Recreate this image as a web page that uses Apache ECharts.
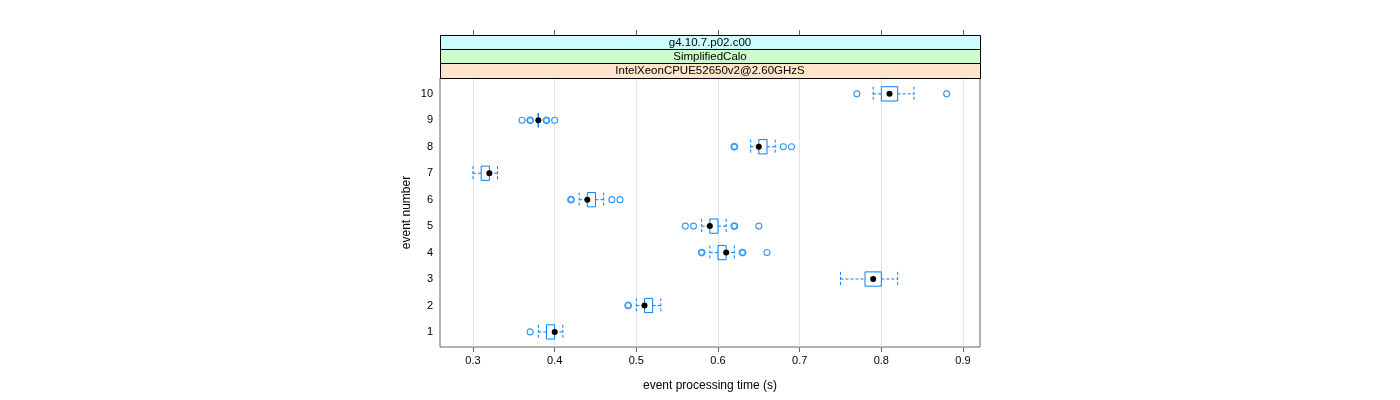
<!DOCTYPE html>
<html>
<head>
<meta charset="utf-8">
<script src="https://cdn.jsdelivr.net/npm/echarts@6/dist/echarts.min.js"></script>
<style>
html,body{margin:0;padding:0;background:#fff;}
#chart{width:1400px;height:400px;}
</style>
</head>
<body>
<div id="chart"></div>
<script>
// ---- data ----
const events = [1, 2, 3, 4, 5, 6, 7, 8, 9, 10];
const whiskerLow  = [0.38, 0.50, 0.75, 0.59, 0.58, 0.43, 0.30, 0.64, 0.38, 0.79];
const q1          = [0.39, 0.51, 0.78, 0.60, 0.59, 0.44, 0.31, 0.65, 0.38, 0.80];
const medians     = [0.40, 0.51, 0.79, 0.61, 0.59, 0.44, 0.32, 0.65, 0.38, 0.81];
const q3          = [0.40, 0.52, 0.80, 0.61, 0.60, 0.45, 0.32, 0.66, 0.38, 0.82];
const whiskerHigh = [0.41, 0.53, 0.82, 0.62, 0.61, 0.46, 0.33, 0.67, 0.38, 0.84];
// outliers: event, value, multiplicity
const outlierEvent = [1, 2, 4, 4, 4, 5, 5, 5, 5, 6, 6, 6, 8, 8, 8, 9, 9, 9, 9, 10, 10];
const outlierValue = [0.37, 0.49, 0.58, 0.63, 0.66, 0.56, 0.57, 0.62, 0.65, 0.42, 0.47, 0.48, 0.62, 0.68, 0.69, 0.36, 0.37, 0.39, 0.40, 0.77, 0.88];
const outlierCount = [1, 2, 2, 2, 1, 1, 1, 2, 1, 2, 1, 1, 2, 1, 1, 1, 2, 2, 1, 1, 1];
const xTicks = [0.3, 0.4, 0.5, 0.6, 0.7, 0.8, 0.9];
const yTicks = [1, 2, 3, 4, 5, 6, 7, 8, 9, 10];
const stripLabels = ['g4.10.7.p02.c00', 'SimplifiedCalo', 'IntelXeonCPUE52650v2@2.60GHzS'];

// ---- build ----
const BLUE = '#0080ff';
const FONT = '"Liberation Sans", Arial, sans-serif';
const boxData = events.map((e, i) => [e, whiskerLow[i], q1[i], medians[i], q3[i], whiskerHigh[i]]);
const outData = outlierEvent.map((e, i) => ({
  value: [outlierValue[i], e],
  itemStyle: { borderWidth: outlierCount[i] > 1 ? 1.8 : 1.1 }
}));

function renderBox(params, api) {
  const y = api.value(0);
  const pLo = api.coord([api.value(1), y]);
  const pQ1 = api.coord([api.value(2), y]);
  const pMed = api.coord([api.value(3), y]);
  const pQ3 = api.coord([api.value(4), y]);
  const pHi = api.coord([api.value(5), y]);
  const h = api.size([0, 1])[1] * 0.27;
  const dash = { stroke: BLUE, lineWidth: 1, lineDash: [3, 2], fill: null };
  const solid = { stroke: BLUE, lineWidth: 1, fill: null };
  const cy = pMed[1];
  return {
    type: 'group',
    children: [
      { type: 'line', shape: { x1: pLo[0], y1: cy, x2: pQ1[0], y2: cy }, style: dash },
      { type: 'line', shape: { x1: pQ3[0], y1: cy, x2: pHi[0], y2: cy }, style: dash },
      { type: 'line', shape: { x1: pLo[0], y1: cy - h, x2: pLo[0], y2: cy + h }, style: dash },
      { type: 'line', shape: { x1: pHi[0], y1: cy - h, x2: pHi[0], y2: cy + h }, style: dash },
      { type: 'rect', shape: { x: pQ1[0], y: cy - h, width: Math.max(pQ3[0] - pQ1[0], 0), height: 2 * h }, style: solid },
      { type: 'circle', shape: { cx: pMed[0], cy: cy, r: 3 }, style: { fill: '#000' } }
    ]
  };
}

const plotLeft = 440, plotW = 540, plotTop = 78, plotH = 269;
const stripTops = [35, 49, 63];
const stripH = [14, 14, 15];
const stripColors = ['#ccffff', '#ccffcc', '#ffe5cc'];

const graphics = [];
stripLabels.forEach((t, i) => {
  graphics.push({
    type: 'rect', left: plotLeft, top: stripTops[i], z: 10,
    shape: { width: plotW, height: stripH[i] },
    style: { fill: stripColors[i], stroke: '#000', lineWidth: 1 }
  });
  graphics.push({
    type: 'text', x: plotLeft + plotW / 2, y: stripTops[i] + stripH[i] / 2 + 0.5, z: 11,
    style: { text: t, fill: '#000', font: '11.5px ' + FONT, align: 'center', verticalAlign: 'middle' }
  });
});

const chart = echarts.init(document.getElementById('chart'), null, { renderer: 'canvas' });
chart.setOption({
  animation: false,
  backgroundColor: '#fff',
  grid: { left: plotLeft, top: plotTop, width: plotW, height: plotH, show: true, borderColor: '#666', borderWidth: 1, backgroundColor: 'transparent' },
  xAxis: [{
    type: 'value', min: 0.2596, max: 0.9208,
    axisLine: { show: false },
    axisTick: { show: true, length: 5, lineStyle: { color: '#666' }, customValues: xTicks },
    axisLabel: { show: true, customValues: xTicks, color: '#000', fontSize: 11, fontFamily: FONT, margin: 8, formatter: v => v.toFixed(1) },
    splitLine: { show: true, lineStyle: { color: '#e6e6e6', width: 1 } },
    name: 'event processing time (s)', nameLocation: 'middle', nameGap: 33,
    nameTextStyle: { color: '#000', fontSize: 12, fontFamily: FONT }
  }, {
    type: 'value', min: 0.2596, max: 0.9208, position: 'top', offset: 43,
    axisLine: { show: false },
    axisTick: { show: true, length: 5, lineStyle: { color: '#666' }, customValues: xTicks },
    axisLabel: { show: false },
    splitLine: { show: false }
  }],
  yAxis: {
    type: 'value', min: 0.43, max: 10.6,
    axisLine: { show: false },
    axisTick: { show: false },
    axisLabel: { show: true, customValues: yTicks, color: '#000', fontSize: 11, fontFamily: FONT, margin: 7 },
    splitLine: { show: false },
    name: 'event number', nameLocation: 'middle', nameGap: 27,
    nameTextStyle: { color: '#000', fontSize: 12, fontFamily: FONT }
  },
  series: [{
    type: 'custom', renderItem: renderBox, data: boxData,
    encode: { x: [1, 2, 3, 4, 5], y: 0 }, z: 3, clip: false
  }, {
    type: 'scatter', data: outData, symbol: 'circle', symbolSize: 6,
    itemStyle: { color: '#fff', borderColor: BLUE }, z: 4
  }],
  graphic: graphics
});
</script>
</body>
</html>
